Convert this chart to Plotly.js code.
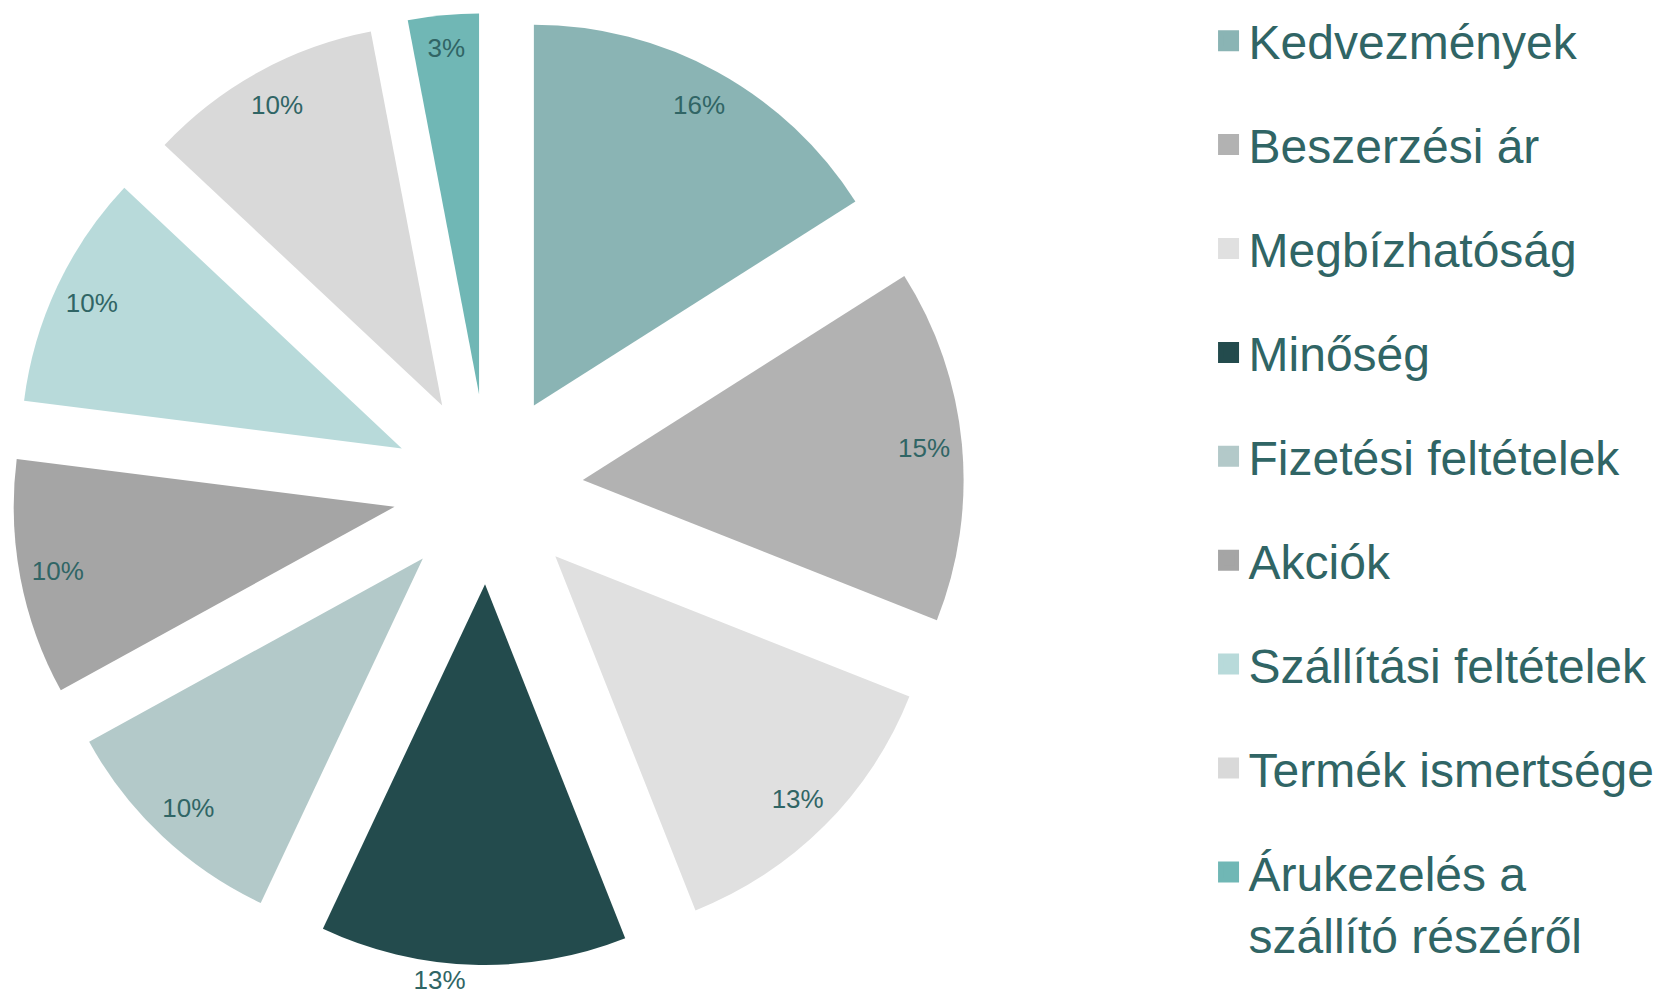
<!DOCTYPE html>
<html>
<head>
<meta charset="utf-8">
<script src="https://cdn.plot.ly/plotly-3.0.1.min.js"></script>
<style>html,body{margin:0;padding:0;background:#fff;}#chart{width:1661px;height:1000px;}</style>
</head>
<body>
<div id="chart"></div>
<script>
const categories = ['Kedvezmények', 'Beszerzési ár', 'Megbízhatóság', 'Minőség', 'Fizetési feltételek', 'Akciók', 'Szállítási feltételek', 'Termék ismertsége', 'Árukezelés a<br>szállító részéről'];
const shares = [16, 15, 13, 13, 10, 10, 10, 10, 3];
const colors = ['#8AB4B4', '#B2B2B2', '#E0E0E0', '#234B4D', '#B3C9C9', '#A5A5A5', '#B8DADA', '#D9D9D9', '#70B7B5'];
const labelPositions = ['inside', 'inside', 'inside', 'outside', 'inside', 'inside', 'inside', 'inside', 'inside'];

const textColor = '#306565';
const fontFamily = '"Liberation Sans", Arial, sans-serif';
const pieDomain = {x: [0.00722, 0.5804], y: [0.035, 0.987]};

// the pie slices
const pie = {
  type: 'pie',
  values: shares,
  labels: categories,
  sort: false,
  direction: 'clockwise',
  rotation: 0,
  pull: 0.25,
  marker: {colors: colors, line: {width: 0}},
  textinfo: 'none',
  showlegend: false,
  hoverinfo: 'label+percent',
  domain: pieDomain
};

// same pie, transparent, used only to place the percentage labels near the rim
const pieLabels = {
  type: 'pie',
  values: shares,
  labels: categories,
  sort: false,
  direction: 'clockwise',
  rotation: 0,
  pull: 0.25,
  hole: 0.8,
  marker: {colors: categories.map(() => 'rgba(0,0,0,0)'), line: {width: 0}},
  texttemplate: '%{value}%',
  textposition: labelPositions,
  insidetextorientation: 'horizontal',
  textfont: {family: fontFamily, size: 26, color: textColor},
  outsidetextfont: {family: fontFamily, size: 26, color: textColor},
  showlegend: false,
  hoverinfo: 'skip',
  domain: pieDomain
};

// legend entries, one per category (no points drawn)
const legendTraces = categories.map((c, i) => ({
  type: 'scatter',
  mode: 'markers',
  x: [null], y: [null],
  name: c,
  legendgroup: 'g' + i,
  marker: {symbol: 'square', size: 16, color: colors[i], line: {width: 5, color: colors[i]}},
  hoverinfo: 'skip'
}));

const layout = {
  width: 1661, height: 1000,
  margin: {l: 0, r: 0, t: 0, b: 0},
  paper_bgcolor: '#ffffff', plot_bgcolor: '#ffffff',
  xaxis: {visible: false}, yaxis: {visible: false},
  showlegend: true,
  legend: {
    x: 0.7276, xanchor: 'left', y: 0.997, yanchor: 'top',
    font: {family: fontFamily, size: 48, color: textColor},
    traceorder: 'grouped', tracegroupgap: 38.5, valign: 'top',
    bgcolor: 'rgba(0,0,0,0)'
  }
};

Plotly.newPlot('chart', [pie, pieLabels].concat(legendTraces), layout, {displayModeBar: false, staticPlot: true});
</script>
</body>
</html>
